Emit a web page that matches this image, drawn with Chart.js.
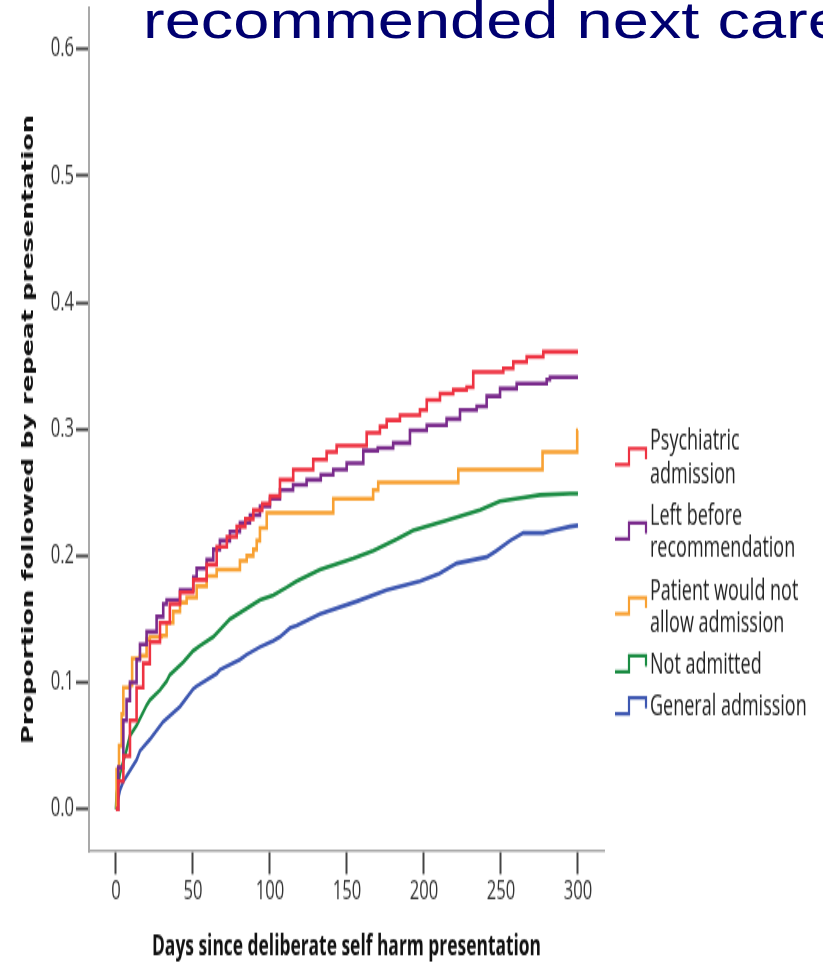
<!DOCTYPE html>
<html>
<head>
<meta charset="utf-8">
<script src="https://cdn.jsdelivr.net/npm/chart.js@4.4.1/dist/chart.umd.min.js"></script>
<style>
  html, body { margin: 0; padding: 0; background: #fff; overflow: hidden; }
  body { width: 823px; height: 963px; position: relative; }
  #slideTitle {
    position: absolute; left: 143px; top: -6px;
    font: 52px "Liberation Sans", Arial, sans-serif; line-height: 52px;
    color: #000070; white-space: nowrap;
    transform: scaleX(1.25); transform-origin: 0 0;
  }
  /* the original plot image is stretched vertically, so draw flat and stretch */
  #wrap { position: absolute; left: 0; top: 0; width: 823px; height: 602px;
          transform: scaleY(1.6); transform-origin: 0 0; }
</style>
</head>
<body>
<div id="wrap"><canvas id="kmChart" width="823" height="602"></canvas></div>
<div id="slideTitle">recommended next care</div>
<script>
// ---- data ----
const xTicks = [0, 50, 100, 150, 200, 250, 300];
const yTicks = [0, 0.1, 0.2, 0.3, 0.4, 0.5, 0.6];

const seriesLabels = ["Psychiatric admission", "Left before recommendation",
  "Patient would not allow admission", "Not admitted", "General admission"];
const legendLines = [["Psychiatric", "admission"], ["Left before", "recommendation"],
  ["Patient would not", "allow admission"], ["Not admitted"], ["General admission"]];
const seriesColors = ["#ee3342", "#7a2b8c", "#f8a133", "#1b8c43", "#3d57b1"];
// fine grained curves look smooth in the original, the coarse ones show their steps
const seriesStepped = [true, true, true, false, false];

const psychDays = [0, 1.5, 4.8, 9.1, 13.4, 17.7, 22, 28.6, 35, 41.6, 50.2, 58.9, 65.4,
  72, 78.4, 84, 89.2, 95, 100, 106.5, 115.1, 123.8, 128.1, 136.8, 143.3, 154.1, 162.8,
  171.4, 175.8, 184.4, 197.4, 201.8, 210.4, 219, 227.7, 232, 251.5, 258, 266.7, 277.5, 300];
const psychProp = [0, 0.022, 0.042, 0.07, 0.096, 0.115, 0.132, 0.147, 0.162, 0.171, 0.181,
  0.193, 0.207, 0.215, 0.223, 0.229, 0.236, 0.241, 0.247, 0.26, 0.268, 0.268, 0.276, 0.282,
  0.287, 0.287, 0.297, 0.302, 0.307, 0.311, 0.315, 0.323, 0.328, 0.331, 0.333, 0.345, 0.348,
  0.353, 0.357, 0.361, 0.361];

const leftDays = [0, 1.5, 4.8, 6.9, 9.1, 13.4, 15.6, 19.9, 26.4, 30.7, 32.9, 41.6, 50.2,
  52.4, 58.9, 63.2, 67.5, 74, 80.5, 87, 93.5, 100, 106.5, 115, 123.8, 133, 141.1, 149.8,
  160.6, 170, 180, 190.9, 201.8, 214.7, 223.4, 234.2, 240.7, 249.4, 260.2, 279.7, 281.8, 300];
const leftProp = [0, 0.033, 0.07, 0.086, 0.1, 0.118, 0.13, 0.14, 0.152, 0.162, 0.165, 0.173,
  0.183, 0.19, 0.197, 0.205, 0.212, 0.219, 0.226, 0.232, 0.239, 0.245, 0.252, 0.256, 0.26,
  0.264, 0.268, 0.273, 0.283, 0.285, 0.289, 0.299, 0.303, 0.308, 0.315, 0.318, 0.326, 0.332,
  0.336, 0.339, 0.341, 0.341];

const refusedDays = [0, 0.4, 2, 3.7, 4.8, 9.1, 10.5, 15.6, 19.9, 22, 29.6, 32.9, 37.2, 41.6,
  45.9, 52.4, 58.9, 65.4, 80.5, 84.9, 89.2, 91.4, 93.5, 97.9, 141.1, 167, 170.3, 222.3, 277,
  299.5, 300];
const refusedProp = [0, 0.031, 0.05, 0.075, 0.096, 0.098, 0.119, 0.121, 0.134, 0.136, 0.137,
  0.147, 0.156, 0.163, 0.167, 0.176, 0.184, 0.189, 0.196, 0.2, 0.205, 0.212, 0.222, 0.234,
  0.245, 0.252, 0.258, 0.268, 0.282, 0.299, 0.299];

const notAdmDays = [0, 0.4, 2.6, 6.9, 9.1, 13.4, 19.9, 22, 28.6, 32.9, 35, 43.7, 50.2, 54.5,
  63.2, 74, 87, 93.5, 102.2, 110.8, 117.3, 132.5, 154.1, 167, 182.3, 193, 214.7, 236.4,
  249.4, 264.5, 275.3, 294.8, 300];
const notAdmProp = [0, 0.012, 0.028, 0.047, 0.058, 0.066, 0.082, 0.086, 0.094, 0.101, 0.106,
  0.116, 0.125, 0.129, 0.136, 0.15, 0.16, 0.165, 0.169, 0.175, 0.18, 0.189, 0.198, 0.204,
  0.213, 0.22, 0.228, 0.236, 0.243, 0.246, 0.248, 0.249, 0.249];

const generalDays = [0, 2.6, 4.8, 6.9, 13.4, 15.6, 22, 30.7, 41.6, 50.2, 52.4, 65.4, 67.5,
  80.5, 84.9, 93.5, 102.2, 106.5, 113, 117.3, 132.5, 156.3, 175.8, 197.4, 210, 221.2, 240.7,
  247, 256, 264.5, 277.5, 284, 294.8, 300];
const generalProp = [0, 0.015, 0.022, 0.026, 0.039, 0.046, 0.055, 0.069, 0.081, 0.095, 0.097,
  0.107, 0.11, 0.118, 0.122, 0.128, 0.133, 0.136, 0.143, 0.145, 0.154, 0.164, 0.173, 0.18,
  0.186, 0.194, 0.199, 0.204, 0.212, 0.218, 0.218, 0.22, 0.223, 0.224];

const allDays = [psychDays, leftDays, refusedDays, notAdmDays, generalDays];
const allProp = [psychProp, leftProp, refusedProp, notAdmProp, generalProp];

// ---- layout (drawn flat, stretched 1.6x by css) ----
const K = 1.6;
const tickFont = { family: "'Open Sans', 'Noto Sans', sans-serif", size: 16.6 };

const datasets = seriesLabels.map((name, i) => ({
  label: name,
  data: allDays[i].map((d, j) => ({ x: d, y: allProp[i][j] })),
  borderColor: seriesColors[i],
  backgroundColor: seriesColors[i],
  borderWidth: 2.6,
  pointRadius: 0,
  stepped: seriesStepped[i],
  tension: 0,
  fill: false,
}));

// legend on the right, step shaped keys like the SPSS output
const sideLegend = {
  id: "sideLegend",
  afterDraw(chart) {
    const ctx = chart.ctx;
    const lineGap = 32.5 / K;
    const entryGap = 42 / K;
    let y = 442 / K;
    ctx.save();
    ctx.font = "18px 'Open Sans', 'Noto Sans', sans-serif";
    ctx.textBaseline = "middle";
    ctx.textAlign = "left";
    chart.data.datasets.forEach((ds, i) => {
      const lines = legendLines[i];
      const c = y + ((lines.length - 1) * lineGap) / 2 - 1;
      ctx.strokeStyle = ds.borderColor;
      ctx.lineWidth = 2.2;
      ctx.beginPath();
      ctx.moveTo(615, c + 5);
      ctx.lineTo(629, c + 5);
      ctx.lineTo(629, c - 5);
      ctx.lineTo(646, c - 5);
      ctx.lineTo(646, c + 1.5);
      ctx.stroke();
      ctx.fillStyle = "#222";
      lines.forEach((t, j) => ctx.fillText(t, 650, y + j * lineGap));
      y += (lines.length - 1) * lineGap + entryGap;
    });
    ctx.restore();
  },
};

const whiteBg = {
  id: "whiteBg",
  beforeDraw(chart) {
    const ctx = chart.ctx;
    ctx.save();
    ctx.fillStyle = "#fff";
    ctx.fillRect(0, 0, chart.width, chart.height);
    ctx.restore();
  },
};

// keep the plot box where it is in the picture: no extra room for edge labels
function noEdgePadding(s) {
  s.paddingTop = 0;
  s.paddingBottom = 0;
  s.paddingLeft = 0;
  s.paddingRight = 0;
}

const ctxKm = document.getElementById("kmChart").getContext("2d");
const kmChart = new Chart(ctxKm, {
  type: "line",
  data: { datasets: datasets },
  plugins: [whiteBg, sideLegend],
  options: {
    responsive: false,
    animation: false,
    devicePixelRatio: 1,
    layout: { padding: { top: 5, right: 219, bottom: 0, left: 0 } },
    plugins: {
      legend: { display: false },
      tooltip: { enabled: false },
    },
    scales: {
      x: {
        type: "linear",
        position: "bottom",
        min: -17.5,
        max: 316.9,
        afterFit: (s) => { s.height = 70; noEdgePadding(s); },
        afterBuildTicks: (s) => { s.ticks = xTicks.map((v) => ({ value: v })); },
        border: { display: true, color: "#a9a9a9", width: 1.5 },
        grid: { drawOnChartArea: false, drawTicks: true, tickLength: 14.4, tickWidth: 2, tickColor: "#444" },
        ticks: { font: tickFont, color: "#333", padding: 1, maxRotation: 0, autoSkip: false },
        title: {
          display: true,
          text: "Days since deliberate self harm presentation",
          color: "#111",
          font: { family: "'Open Sans', sans-serif", size: 17.4, weight: "bold", lineHeight: 1.1 },
          padding: { top: 1, bottom: 0 },
        },
      },
      y: {
        type: "linear",
        position: "left",
        min: -0.0332,
        max: 0.6324,
        afterFit: (s) => { s.width = 89; noEdgePadding(s); },
        afterBuildTicks: (s) => { s.ticks = yTicks.map((v) => ({ value: v })); },
        border: { display: true, color: "#a9a9a9", width: 2 },
        grid: { drawOnChartArea: false, drawTicks: true, tickLength: 13, tickWidth: 2, tickColor: "#444" },
        ticks: { font: tickFont, color: "#333", padding: 2, callback: (v) => Number(v).toFixed(1) },
        title: {
          display: true,
          text: "Proportion followed by repeat presentation",
          color: "#111",
          font: { family: "'DejaVu Sans', Verdana, sans-serif", size: 16, weight: "bold" },
          padding: { top: 19.5, bottom: 0 },
        },
      },
    },
  },
});
</script>
</body>
</html>
